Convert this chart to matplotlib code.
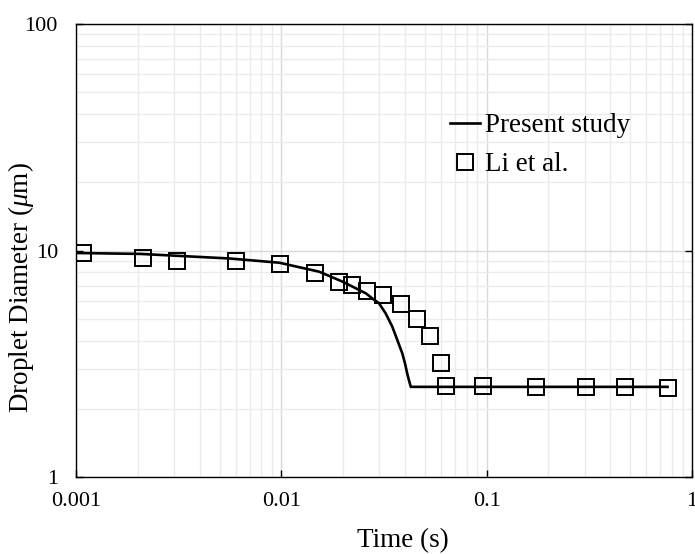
import matplotlib
matplotlib.use("Agg")
import matplotlib.pyplot as plt

plt.rcParams['font.family'] = ['Liberation Serif', 'DejaVu Serif']
plt.rcParams['mathtext.fontset'] = 'custom'
plt.rcParams['mathtext.rm'] = 'Liberation Serif'
plt.rcParams['mathtext.it'] = 'Liberation Serif:italic'

# Data
present_x = [0.001, 0.00205, 0.0056, 0.0098, 0.0122, 0.0153, 0.0199, 0.0258,
             0.0277, 0.0299, 0.0322, 0.0347, 0.0367, 0.0388, 0.0400, 0.0410,
             0.0418, 0.0427, 0.76]
present_y = [9.75, 9.66, 9.22, 8.83, 8.44, 8.06, 7.28, 6.47,
             6.15, 5.85, 5.28, 4.61, 4.03, 3.52, 3.18, 2.87,
             2.68, 2.50, 2.50]

li_x = [0.00108, 0.00213, 0.00312, 0.0060, 0.0099, 0.0146, 0.0190, 0.0222,
        0.0262, 0.0313, 0.0383, 0.0456, 0.0527, 0.0596, 0.0632, 0.0957,
        0.173, 0.305, 0.473, 0.764]
li_y = [9.75, 9.27, 9.0, 8.95, 8.7, 7.92, 7.28, 7.06,
        6.6, 6.33, 5.8, 4.96, 4.2, 3.2, 2.53, 2.53,
        2.49, 2.49, 2.49, 2.47]

x_ticks = [0.001, 0.01, 0.1, 1]
x_tick_labels = ['0.001', '0.01', '0.1', '1']
y_ticks = [1, 10, 100]
y_tick_labels = ['1', '10', '100']

W, H = 695, 554
fig = plt.figure(figsize=(W / 100, H / 100), dpi=100)
ax = fig.add_axes([76 / W, (H - 477) / H, (692 - 76) / W, (477 - 24) / H])

ax.set_xscale('log')
ax.set_yscale('log')
ax.set_xlim(0.001, 1)
ax.set_ylim(1, 100)

ax.grid(True, which='minor', color='#ebebeb', linewidth=1.0)
ax.grid(True, which='major', color='#d9d9d9', linewidth=1.0)
ax.set_axisbelow(True)

ax.plot(present_x, present_y, color='black', linewidth=1.9, label='Present study', zorder=3)
ax.plot(li_x, li_y, linestyle='none', marker='s', markersize=11.5,
        markerfacecolor='none', markeredgecolor='black', markeredgewidth=1.4,
        label='Li et al.', zorder=4)

ax.set_xticks(x_ticks)
ax.set_xticklabels(x_tick_labels)
ax.set_yticks(y_ticks)
ax.set_yticklabels(y_tick_labels)
ax.tick_params(axis='both', which='minor', length=0)
ax.tick_params(axis='x', which='major', direction='in', length=5, width=1,
               labelsize=16, pad=11, bottom=True, top=False)
ax.tick_params(axis='y', which='major', direction='in', length=5, width=1,
               labelsize=16, pad=13, left=True, right=True)

for s in ax.spines.values():
    s.set_linewidth(1.0)
    s.set_color('black')

ax.set_xlabel('Time (s)', fontsize=19.5, va='center')
ax.xaxis.set_label_coords(403 / W, (H - 541) / H, transform=fig.transFigure)
ax.set_ylabel(r'Droplet Diameter ($\mu$m)', fontsize=19.5, va='center', ha='center')
ax.yaxis.set_label_coords(21 / W, (H - 288) / H, transform=fig.transFigure)

ax.legend(loc='upper left', bbox_to_anchor=(450 / W, (H - 113) / H),
          bbox_transform=fig.transFigure, frameon=False, fontsize=19.5,
          handlelength=1.1, handletextpad=0.2, labelspacing=0.52,
          borderpad=0, borderaxespad=0)

fig.savefig('out.png', dpi=100)
